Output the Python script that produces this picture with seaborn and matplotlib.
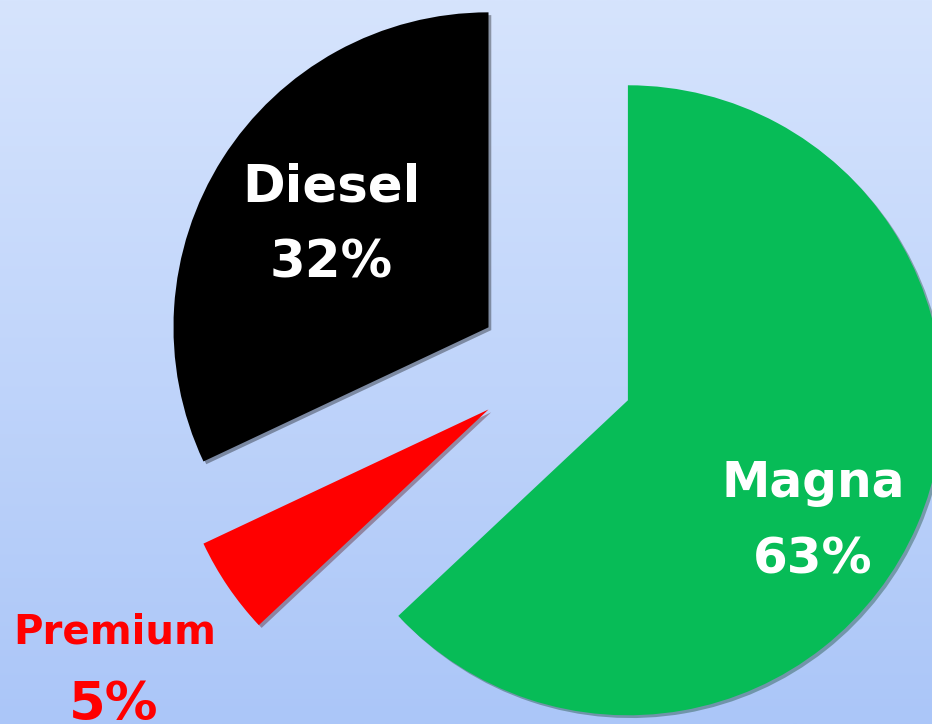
import numpy as np
import matplotlib
matplotlib.use("Agg")
import matplotlib.pyplot as plt
import matplotlib.patheffects as pe
from matplotlib.colors import LinearSegmentedColormap
import seaborn as sns

# data
LABELS = ["Magna", "Premium", "Diesel"]
SHARES = [63, 5, 32]
COLORS = ["#07bc57", "#ff0000", "#000000"]
EXPLODE = [0.266, 0.24, 0.235]   # fraction of radius

sns.set_style("white")
plt.rcParams["font.family"] = ["DejaVu Sans"]

W, H = 932, 724
R = 315
fig = plt.figure(figsize=(W / 100, H / 100), dpi=100)
ax = fig.add_axes([0, 0, 1, 1])

# background gradient (light blue, darker toward bottom)
bg = LinearSegmentedColormap.from_list("bg", ["#abc6f8", "#d6e4fd"])
grad = np.linspace(0, 1, 256).reshape(-1, 1)
ax.imshow(grad, cmap=bg, aspect="auto", extent=[0, W, 0, H], origin="lower", zorder=0)

# matplotlib's explode is in data units, so scale by the radius
wedges, _ = ax.pie(SHARES, colors=COLORS, explode=[e * R for e in EXPLODE],
                   startangle=90, counterclock=False, radius=R,
                   center=(551, H - 367), frame=True,
                   wedgeprops={"linewidth": 0})
for w in wedges:
    w.set_zorder(2)
    w.set_path_effects([pe.SimplePatchShadow(offset=(2, -2), alpha=0.35),
                        pe.Normal()])

# labels
txt = dict(ha="center", va="baseline", fontweight="bold", zorder=5)
ax.text(331, H - 202, "Diesel", color="white", fontsize=37, **txt)
ax.text(331, H - 278, "32%", color="white", fontsize=37, **txt)
ax.text(813, H - 497, "Magna", color="white", fontsize=35, **txt)
ax.text(813, H - 573, "63%", color="white", fontsize=36, **txt)
ax.text(115, H - 643, "Premium", color="#ff0000", fontsize=29, **txt)
ax.text(114, H - 720, "5%", color="#ff0000", fontsize=38, **txt)

ax.set_xlim(0, W)
ax.set_ylim(0, H)
ax.set_aspect("equal")
ax.axis("off")

fig.savefig("out.png", dpi=100)
